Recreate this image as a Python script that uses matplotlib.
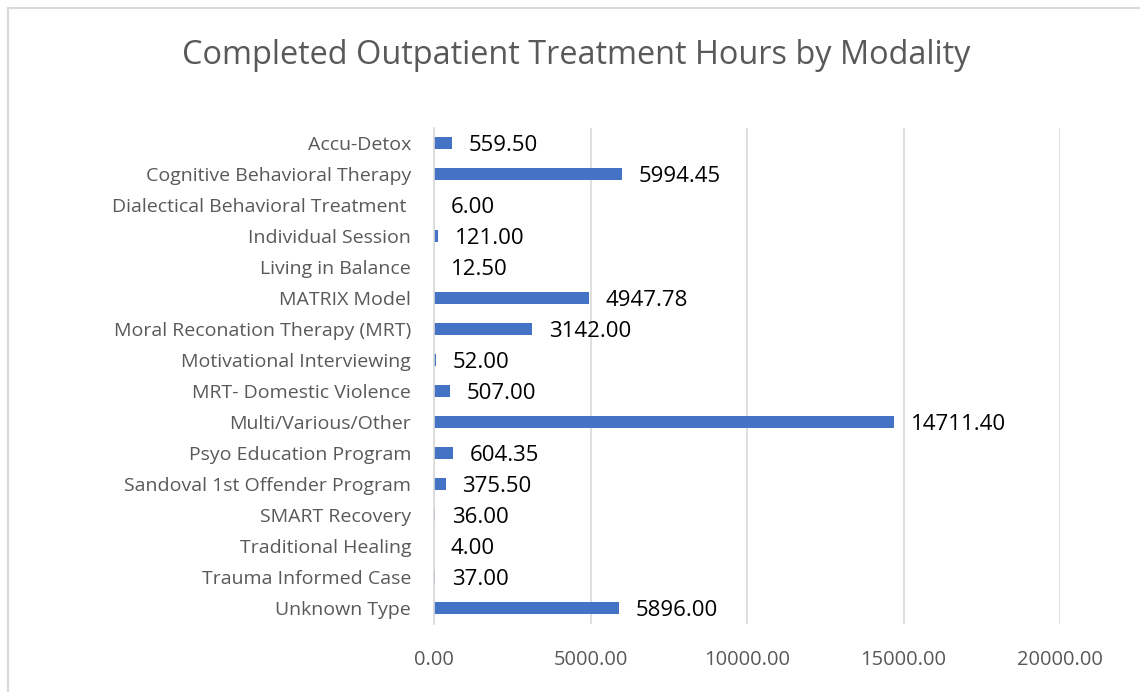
import matplotlib
matplotlib.use("Agg")
import matplotlib.pyplot as plt
from matplotlib.patches import Rectangle
import numpy as np

categories = [
    "Accu-Detox",
    "Cognitive Behavioral Therapy",
    "Dialectical Behavioral Treatment ",
    "Individual Session",
    "Living in Balance",
    "MATRIX Model",
    "Moral Reconation Therapy (MRT)",
    "Motivational Interviewing",
    "MRT- Domestic Violence",
    "Multi/Various/Other",
    "Psyo Education Program",
    "Sandoval 1st Offender Program",
    "SMART Recovery",
    "Traditional Healing",
    "Trauma Informed Case",
    "Unknown Type",
]
hours = [559.50, 5994.45, 6.00, 121.00, 12.50, 4947.78, 3142.00, 52.00,
         507.00, 14711.40, 604.35, 375.50, 36.00, 4.00, 37.00, 5896.00]
xticks = [0, 5000, 10000, 15000, 20000]

plt.rcParams['font.family'] = ['Open Sans', 'DejaVu Sans']

W, H = 1140, 692
fig = plt.figure(figsize=(W / 100, H / 100), dpi=100)
fig.patch.set_facecolor('white')

# outer chart border
fig.add_artist(Rectangle((8 / W, -0.1), 1.2, (H - 8) / H + 0.1,
                         transform=fig.transFigure, fill=False,
                         edgecolor='#d9d9d9', linewidth=1.5))

left, right = 434 / W, 1060 / W
top, bottom = 1 - 127.5 / H, 1 - 623.5 / H
ax = fig.add_axes([left, bottom, right - left, top - bottom])

y = np.arange(len(categories))
ax.barh(y, hours, height=0.4, color='#4472c4')
ax.set_ylim(len(categories) - 0.5, -0.5)
ax.set_xlim(0, 20000)
ax.set_yticks(y)
ax.set_yticklabels(categories, fontsize=14, color='#595959')
ax.set_xticks(xticks)
ax.set_xticklabels([f"{v:.2f}" for v in xticks], fontsize=14.5, color='#595959')
ax.tick_params(axis='both', length=0)
ax.tick_params(axis='y', pad=16.5)
ax.tick_params(axis='x', pad=19)

for s in ['top', 'right', 'bottom']:
    ax.spines[s].set_visible(False)
ax.spines['left'].set_color('#d9d9d9')
ax.spines['left'].set_linewidth(1.2)
ax.grid(axis='x', color='#d9d9d9', linewidth=1.2)
ax.set_axisbelow(True)

for yi, v in zip(y, hours):
    ax.annotate(f"{v:.2f}", (v, yi), xytext=(12, -2), textcoords='offset points',
                va='center', ha='left', fontsize=16, color='black')

fig.text(576 / W, 1 - 55 / H, "Completed Outpatient Treatment Hours by Modality",
         ha='center', va='center', fontsize=23.4, color='#595959')

fig.savefig("out.png", dpi=100, facecolor='white')
